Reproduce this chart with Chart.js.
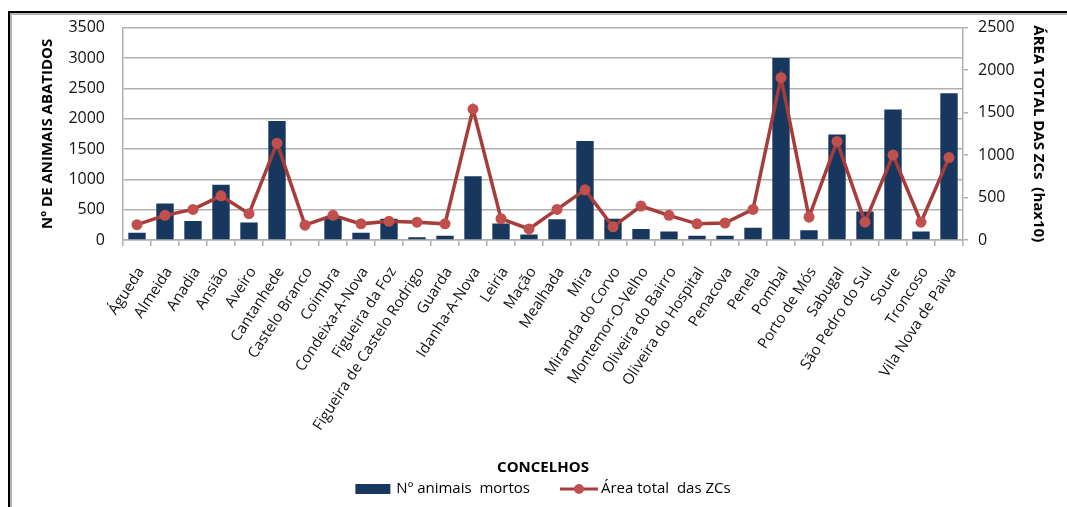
<!DOCTYPE html>
<html lang="pt">
<head>
<meta charset="utf-8">
<title>Animais abatidos e área das ZCs por concelho</title>
<script src="https://cdn.jsdelivr.net/npm/chart.js@4/dist/chart.umd.min.js"></script>
<style>
  html, body { margin: 0; padding: 0; background: #fff; }
  #wrap { position: relative; width: 1067px; height: 507px; overflow: hidden; }
  #frame {
    position: absolute; left: 8px; top: 11px; width: 1100px; height: 540px;
    border-left: 2px solid #000; border-top: 2px solid #000;
    box-shadow: inset 2px 2px 0 #b4b4b4;
  }
  #c { position: absolute; left: 0; top: 0; }
</style>
</head>
<body>
<div id="wrap">
  <div id="frame"></div>
  <canvas id="c" width="1067" height="507"></canvas>
</div>
<script>
// Concelhos (categorias do eixo X)
const concelhos = [
  'Águeda', 'Almeida', 'Anadia', 'Ansião', 'Aveiro', 'Cantanhede', 'Castelo Branco',
  'Coimbra', 'Condeixa-A-Nova', 'Figueira da Foz', 'Figueira de Castelo Rodrigo',
  'Guarda', 'Idanha-A-Nova', 'Leiria', 'Mação', 'Mealhada', 'Mira', 'Miranda do Corvo',
  'Montemor-O-Velho', 'Oliveira do Bairro', 'Oliveira do Hospital', 'Penacova',
  'Penela', 'Pombal', 'Porto de Mós', 'Sabugal', 'São Pedro do Sul', 'Soure',
  'Troncoso', 'Vila Nova de Paiva'
];

// Nº de animais mortos (eixo esquerdo)
const animaisMortos = [
  120, 600, 315, 910, 290, 1960, 0, 360, 120, 350, 45, 70, 1050, 270, 90,
  340, 1630, 350, 180, 140, 70, 70, 200, 3000, 160, 1740, 470, 2150, 140, 2420
];

// Área total das ZCs, em ha x 10 (eixo direito)
const areaZCs = [
  180, 290, 360, 520, 310, 1140, 175, 290, 190, 220, 210, 190, 1540, 250, 130,
  360, 590, 155, 400, 290, 190, 200, 360, 1910, 270, 1160, 210, 1000, 210, 970
];

// Marcas dos eixos
const ticksEsq = [0, 500, 1000, 1500, 2000, 2500, 3000, 3500];
const ticksDir = [0, 500, 1000, 1500, 2000, 2500];

const FONT = "'Open Sans', 'DejaVu Sans', sans-serif";
const AZUL = '#17375e';
const VERMELHO_LINHA = '#a63d3a';
const VERMELHO_PONTO = '#c0504d';
const GRELHA = '#b0b0b0';

// Legenda desenhada por baixo do título do eixo X
const legendaPlugin = {
  id: 'legendaInferior',
  afterDraw(chart) {
    const ctx = chart.ctx;
    const area = chart.chartArea;
    const y = 489;
    ctx.save();
    ctx.font = '15px ' + FONT;
    ctx.textBaseline = 'middle';
    ctx.fillStyle = '#000';
    const ds = chart.data.datasets;
    const t1 = ds[0].label, t2 = ds[1].label;
    const w1 = ctx.measureText(t1).width, w2 = ctx.measureText(t2).width;
    const boxW = 35, gap1 = 6, spacing = 30, lineW = 38, gap2 = 3;
    const total = boxW + gap1 + w1 + spacing + lineW + gap2 + w2;
    let x = (area.left + area.right) / 2 - total / 2;
    ctx.fillStyle = ds[0].backgroundColor;
    ctx.fillRect(x, y - 5, boxW, 10);
    x += boxW + gap1;
    ctx.fillStyle = '#000';
    ctx.fillText(t1, x, y);
    x += w1 + spacing;
    ctx.strokeStyle = ds[1].borderColor;
    ctx.lineWidth = 3;
    ctx.beginPath();
    ctx.moveTo(x, y);
    ctx.lineTo(x + lineW, y);
    ctx.stroke();
    ctx.fillStyle = ds[1].pointBackgroundColor;
    ctx.beginPath();
    ctx.arc(x + lineW / 2, y, 5, 0, Math.PI * 2);
    ctx.fill();
    x += lineW + gap2;
    ctx.fillStyle = '#000';
    ctx.fillText(t2, x, y);
    ctx.restore();
  }
};

const semSeparador = v => String(v);

new Chart(document.getElementById('c'), {
  data: {
    labels: concelhos,
    datasets: [
      {
        type: 'bar',
        label: 'Nº animais  mortos',
        data: animaisMortos,
        backgroundColor: AZUL,
        borderWidth: 0,
        barPercentage: 0.62,
        categoryPercentage: 1,
        yAxisID: 'y',
        order: 2
      },
      {
        type: 'line',
        label: 'Área total  das ZCs',
        data: areaZCs,
        borderColor: VERMELHO_LINHA,
        borderWidth: 3.5,
        pointRadius: 5.5,
        pointBackgroundColor: VERMELHO_PONTO,
        pointBorderColor: VERMELHO_PONTO,
        pointBorderWidth: 0,
        tension: 0,
        yAxisID: 'y1',
        order: 1
      }
    ]
  },
  options: {
    responsive: false,
    animation: false,
    layout: { padding: { left: 35, right: 16, top: 25, bottom: 26 } },
    plugins: {
      legend: { display: false },
      tooltip: { enabled: false }
    },
    scales: {
      x: {
        offset: true,
        grid: {
          display: true, offset: true, drawOnChartArea: false,
          drawTicks: true, tickLength: 6, color: GRELHA, lineWidth: 1.5
        },
        border: { display: true, color: GRELHA, width: 1.5 },
        ticks: {
          autoSkip: false, minRotation: 57, maxRotation: 57, padding: 18,
          labelOffset: 4,
          color: '#111', font: { family: FONT, size: 15 }
        },
        title: {
          display: true, text: 'CONCELHOS', color: '#000',
          font: { family: FONT, size: 15, weight: 'bold' },
          padding: { top: 4, bottom: 4 }
        },
        afterFit(scale) { scale.height = 241; }
      },
      y: {
        position: 'left',
        min: 0, max: 3500,
        afterBuildTicks(scale) { scale.ticks = ticksEsq.map(v => ({ value: v })); },
        grid: { color: GRELHA, lineWidth: 1.5, drawTicks: false },
        border: { display: true, color: GRELHA, width: 1.5 },
        ticks: { padding: 18, color: '#111', font: { family: FONT, size: 16 }, callback: semSeparador },
        title: {
          display: true, text: 'Nº DE ANIMAIS ABATIDOS', color: '#000',
          font: { family: FONT, size: 15, weight: 'bold' },
          padding: { top: 4, bottom: 4 }
        },
        afterFit(scale) { scale.width = 88; }
      },
      y1: {
        position: 'right',
        min: 0, max: 2500,
        afterBuildTicks(scale) { scale.ticks = ticksDir.map(v => ({ value: v })); },
        grid: {
          drawOnChartArea: false, drawTicks: true, tickLength: 5,
          color: GRELHA, lineWidth: 1.5
        },
        border: { display: true, color: GRELHA, width: 1.5 },
        ticks: { padding: 10, color: '#111', font: { family: FONT, size: 16 }, callback: semSeparador },
        title: {
          display: true, text: 'ÁREA TOTAL DAS ZCs  (hax10)', color: '#000',
          font: { family: FONT, size: 15, weight: 'bold' },
          padding: { top: 4, bottom: 4 }
        },
        afterFit(scale) { scale.width = 88; }
      }
    }
  },
  plugins: [legendaPlugin]
});
</script>
</body>
</html>
